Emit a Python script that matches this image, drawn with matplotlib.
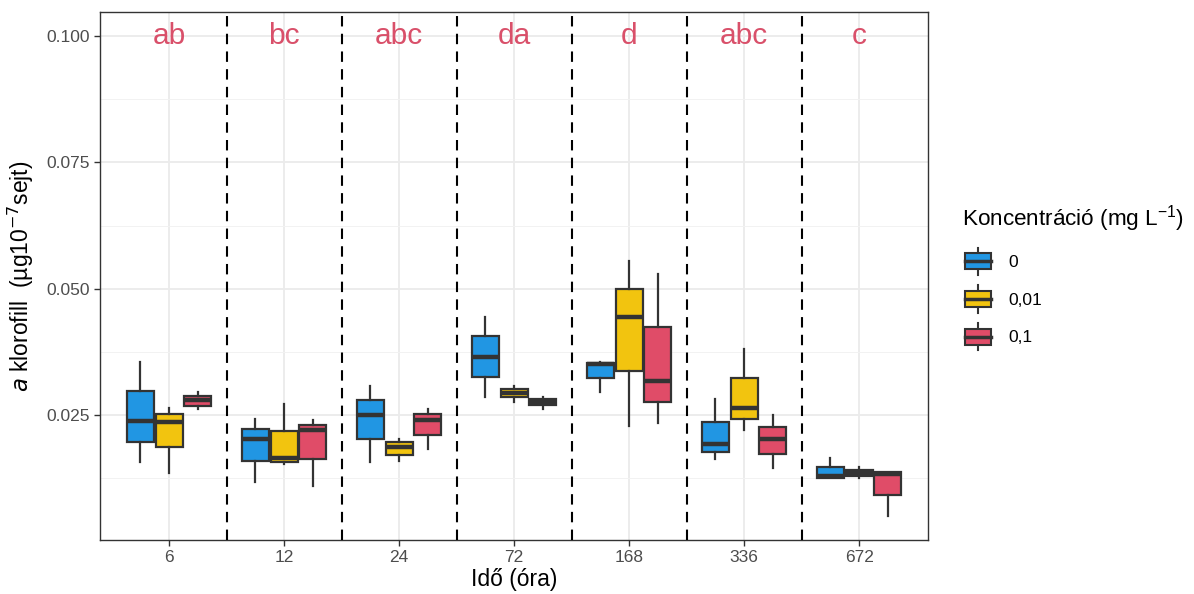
import numpy as np
import matplotlib.pyplot as plt
from matplotlib.legend_handler import HandlerBase
from matplotlib.patches import Rectangle
from matplotlib.lines import Line2D

plt.rcParams['font.family'] = ['Liberation Sans', 'DejaVu Sans']

times = ['6', '12', '24', '72', '168', '336', '672']
concs = ['0', '0,01', '0,1']
colors = ['#2196e3', '#f2c40f', '#e04c68']
letters = ['ab', 'bc', 'abc', 'da', 'd', 'abc', 'c']

# per concentration, per time: whisker low, q1, median, q3, whisker high
whislo = {
    '0':    [0.0157, 0.0117, 0.0157, 0.0285, 0.0295, 0.0163, 0.0125],
    '0,01': [0.0136, 0.0153, 0.0160, 0.0276, 0.0229, 0.0221, 0.0126],
    '0,1':  [0.0263, 0.0110, 0.0183, 0.0263, 0.0235, 0.0145, 0.0051],
}
q1 = {
    '0':    [0.0197, 0.0159, 0.0202, 0.0326, 0.0323, 0.0177, 0.0125],
    '0,01': [0.0186, 0.0157, 0.0172, 0.0285, 0.0337, 0.0242, 0.0130],
    '0,1':  [0.0269, 0.0164, 0.0211, 0.0270, 0.0275, 0.0173, 0.0092],
}
med = {
    '0':    [0.0239, 0.0202, 0.0250, 0.0366, 0.0351, 0.0193, 0.0130],
    '0,01': [0.0237, 0.0165, 0.0186, 0.0294, 0.0445, 0.0265, 0.0135],
    '0,1':  [0.0279, 0.0221, 0.0240, 0.0275, 0.0317, 0.0202, 0.0134],
}
q3 = {
    '0':    [0.0298, 0.0223, 0.0279, 0.0406, 0.0353, 0.0237, 0.0147],
    '0,01': [0.0252, 0.0219, 0.0196, 0.0302, 0.0500, 0.0324, 0.0141],
    '0,1':  [0.0288, 0.0231, 0.0253, 0.0282, 0.0424, 0.0227, 0.0137],
}
whishi = {
    '0':    [0.0356, 0.0242, 0.0308, 0.0445, 0.0355, 0.0281, 0.0165],
    '0,01': [0.0265, 0.0273, 0.0202, 0.0308, 0.0555, 0.0380, 0.0147],
    '0,1':  [0.0295, 0.0240, 0.0263, 0.0285, 0.0530, 0.0251, 0.0137],
}

edge = '#333333'

fig = plt.figure(figsize=(11.94, 5.94), dpi=100)
ax = fig.add_axes([0.0838, 0.091, 0.6935, 0.889])

x = np.arange(1, len(times) + 1)
for j, c in enumerate(concs):
    stats = []
    for i in range(len(times)):
        stats.append({'med': med[c][i], 'q1': q1[c][i], 'q3': q3[c][i],
                      'whislo': whislo[c][i], 'whishi': whishi[c][i]})
    ax.bxp(stats, positions=x + (j - 1) * 0.25, widths=0.235,
           showfliers=False, showcaps=False, patch_artist=True,
           boxprops=dict(facecolor=colors[j], edgecolor=edge, linewidth=1.6),
           medianprops=dict(color=edge, linewidth=3.2, solid_capstyle='butt'),
           whiskerprops=dict(color=edge, linewidth=1.6),
           manage_ticks=False, zorder=3)

for b in x[:-1] + 0.5:
    ax.axvline(b, color='black', linestyle=(0, (5, 3.5)), linewidth=1.5, zorder=4)

for xi, lab in zip(x, letters):
    ax.text(xi, 0.1, lab, ha='center', va='center', fontsize=21.5, color='#d9506a', zorder=5)

ax.set_xlim(0.4, len(times) + 0.6)
ax.set_ylim(0.0003, 0.1048)
ax.set_xticks(x)
ax.set_xticklabels(times)
ax.set_yticks([0.025, 0.050, 0.075, 0.100])
ax.set_yticklabels(['0.025', '0.050', '0.075', '0.100'])
ax.set_yticks([0.0125, 0.0375, 0.0625, 0.0875], minor=True)
ax.grid(True, which='major', color='#ebebeb', linewidth=1.3, zorder=0)
ax.grid(True, which='minor', color='#f2f2f2', linewidth=0.7, zorder=0)
ax.set_axisbelow(True)
ax.tick_params(axis='both', which='major', labelsize=12.5, labelcolor='#4d4d4d',
               color='#333333', length=4, width=1)
ax.tick_params(axis='both', which='minor', length=0)
for s in ax.spines.values():
    s.set_color('#333333')
    s.set_linewidth(1.0)

ax.set_xlabel('Idő (óra)', fontsize=16.5, labelpad=2)
ax.set_ylabel(r'$\it{a}$ klorofill  (µg10$^{-7}$sejt)', fontsize=16.5, labelpad=7)


class BoxHandler(HandlerBase):
    def create_artists(self, legend, orig_handle, xdescent, ydescent,
                       width, height, fontsize, trans):
        fc = orig_handle.get_facecolor()
        w = width * 0.85
        x0 = -xdescent + (width - w) / 2
        y0 = -ydescent
        h = height
        rect = Rectangle((x0, y0 + h * 0.12), w, h * 0.76, facecolor=fc,
                         edgecolor=edge, linewidth=1.5, transform=trans)
        mid = Line2D([x0, x0 + w], [y0 + h / 2, y0 + h / 2], color=edge,
                     linewidth=2.5, transform=trans)
        xc = x0 + w / 2
        wl = Line2D([xc, xc], [y0 - h * 0.15, y0 + h * 0.12], color=edge,
                    linewidth=1.5, transform=trans)
        wh = Line2D([xc, xc], [y0 + h * 0.88, y0 + h * 1.15], color=edge,
                    linewidth=1.5, transform=trans)
        return [wl, wh, rect, mid]


handles = [Rectangle((0, 0), 1, 1, facecolor=col) for col in colors]
leg = fig.legend(handles, concs, handler_map={Rectangle: BoxHandler()},
                 title='Koncentráció (mg L$^{\\mathregular{-1}}$)',
                 loc='upper left', bbox_to_anchor=(0.793, 0.684), frameon=False,
                 fontsize=12.5, title_fontsize=16.2, handlelength=1.75,
                 handleheight=1.5, labelspacing=0.95, handletextpad=0.9)
leg._legend_box.align = 'left'

fig.savefig('out.png', dpi=100)
